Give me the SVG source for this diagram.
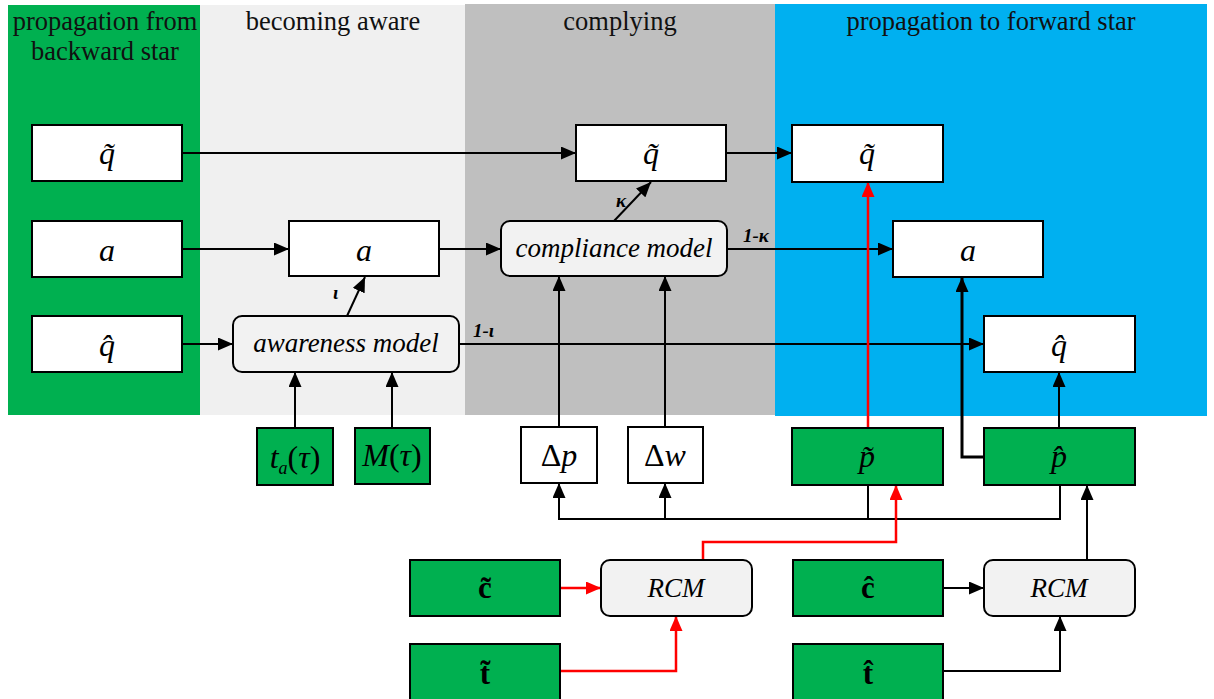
<svg xmlns="http://www.w3.org/2000/svg" width="1214" height="699" viewBox="0 0 1214 699">
<style>
.hdr{font-family:"Liberation Serif","Times New Roman",serif;font-size:26.5px;fill:#111;text-anchor:middle}
.box{fill:#fff;stroke:#000;stroke-width:2}
.gbox{fill:#00b050;stroke:#000;stroke-width:2}
.mbox{fill:#f2f2f2;stroke:#000;stroke-width:2}
.var{font-family:"Liberation Serif","Times New Roman",serif;font-size:32px;font-style:italic;fill:#000;text-anchor:middle}
.bvar{font-family:"Liberation Serif","Times New Roman",serif;font-size:31px;font-weight:bold;fill:#000;text-anchor:middle}
.mdl{font-family:"Liberation Serif","Times New Roman",serif;font-size:27px;font-style:italic;fill:#000;text-anchor:middle}
.lbl{font-family:"Liberation Serif","Times New Roman",serif;font-size:19px;font-style:italic;font-weight:bold;fill:#000}
.up{font-style:normal}
.c{fill:none;stroke:#000;stroke-width:2}
.r{fill:none;stroke:#ff0000;stroke-width:2.5}
</style>
<defs>
<marker id="ah" markerUnits="userSpaceOnUse" markerWidth="15" markerHeight="13" refX="15" refY="6.5" orient="auto"><path d="M0,0 L15,6.5 L0,13 z" fill="#000"/></marker>
<marker id="ahr" markerUnits="userSpaceOnUse" markerWidth="15" markerHeight="13" refX="15" refY="6.5" orient="auto"><path d="M0,0 L15,6.5 L0,13 z" fill="#ff0000"/></marker>
</defs>
<rect width="1214" height="699" fill="#fff"/>
<g id="bands">
<rect x="8" y="5" width="192" height="410" fill="#00b050"/>
<rect x="200" y="5" width="265" height="410" fill="#f0f0f0"/>
<rect x="465" y="4" width="310" height="411" fill="#bfbfbf"/>
<rect x="775" y="4" width="432" height="412" fill="#00b0f0"/>
<text class="hdr" x="105" y="30">propagation from</text>
<text class="hdr" x="105" y="60">backward star</text>
<text class="hdr" x="333" y="30">becoming aware</text>
<text class="hdr" x="620" y="30">complying</text>
<text class="hdr" x="991" y="30">propagation to forward star</text>
</g>
<g id="connectors">
<path class="c" d="M182,153 H576" marker-end="url(#ah)"/>
<path class="c" d="M726,153 H792" marker-end="url(#ah)"/>
<path class="c" d="M182,249 H289" marker-end="url(#ah)"/>
<path class="c" d="M439,249 H501" marker-end="url(#ah)"/>
<path class="c" d="M727,249 H893" marker-end="url(#ah)"/>
<path class="c" d="M182,344 H233" marker-end="url(#ah)"/>
<path class="c" d="M459,344 H984" marker-end="url(#ah)"/>
<path class="c" d="M347,316 L365,277" marker-end="url(#ah)"/>
<path class="c" d="M614,221 L651,182" marker-end="url(#ah)"/>
<path class="c" d="M295,428 V372" marker-end="url(#ah)"/>
<path class="c" d="M392,428 V372" marker-end="url(#ah)"/>
<path class="c" d="M559,427 V276" marker-end="url(#ah)"/>
<path class="c" d="M665,427 V276" marker-end="url(#ah)"/>
<path class="c" d="M1060,485 V519 H559 V483" marker-end="url(#ah)"/>
<path class="c" d="M868,485 V519"/>
<path class="c" d="M665,519 V483" marker-end="url(#ah)"/>
<path class="c" d="M984,457 H962 V277" style="stroke-width:3" marker-end="url(#ah)"/>
<path class="c" d="M1059,428 V372" marker-end="url(#ah)"/>
<path class="c" d="M1087,560 V485" marker-end="url(#ah)"/>
<path class="c" d="M943,588 H984" marker-end="url(#ah)"/>
<path class="c" d="M943,671 H1060 V616" marker-end="url(#ah)"/>
<path class="r" d="M868,428 V182" marker-end="url(#ahr)"/>
<path class="r" d="M703,560 V542 H896 V485" marker-end="url(#ahr)"/>
<path class="r" d="M560,588 H601" marker-end="url(#ahr)"/>
<path class="r" d="M560,671 H676 V616" marker-end="url(#ahr)"/>
<text class="lbl" x="333" y="299">ι</text>
<text class="lbl" x="473" y="337">1-ι</text>
<text class="lbl" x="616" y="207">κ</text>
<text class="lbl" x="743" y="242">1-κ</text>
</g>
<g id="n-q-tilde-in"><rect class="box" x="32" y="125" width="150" height="56"/><text class="var" x="107" y="164">q̃</text></g>
<g id="n-a-in"><rect class="box" x="32" y="221" width="150" height="56"/><text class="var" x="107" y="261">a</text></g>
<g id="n-q-hat-in"><rect class="box" x="32" y="316" width="150" height="56"/><text class="var" x="107" y="356">q̂</text></g>
<g id="n-a-aware"><rect class="box" x="289" y="221" width="150" height="55"/><text class="var" x="364" y="261">a</text></g>
<g id="n-awareness"><rect class="mbox" x="233" y="316" width="226" height="56" rx="9"/><text class="mdl" x="346" y="352">awareness model</text></g>
<g id="n-ta"><rect class="gbox" x="257" y="428" width="76" height="57"/><text class="var" x="295" y="468">t<tspan font-size="18" dy="6">a</tspan><tspan dy="-6" class="up">(</tspan>τ<tspan class="up">)</tspan></text></g>
<g id="n-M"><rect class="gbox" x="355" y="428" width="75" height="56"/><text class="var" x="392" y="466">M<tspan class="up">(</tspan>τ<tspan class="up">)</tspan></text></g>
<g id="n-q-tilde-comp"><rect class="box" x="576" y="125" width="150" height="56"/><text class="var" x="651" y="164">q̃</text></g>
<g id="n-compliance"><rect class="mbox" x="501" y="221" width="226" height="55" rx="9"/><text class="mdl" x="614" y="257">compliance model</text></g>
<g id="n-dp"><rect class="box" x="521" y="427" width="76" height="56"/><text class="var" x="559" y="466"><tspan class="up">Δ</tspan>p</text></g>
<g id="n-dw"><rect class="box" x="628" y="427" width="75" height="56"/><text class="var" x="665" y="466"><tspan class="up">Δ</tspan>w</text></g>
<g id="n-q-tilde-out"><rect class="box" x="792" y="125" width="151" height="57"/><text class="var" x="867" y="164">q̃</text></g>
<g id="n-a-out"><rect class="box" x="893" y="221" width="150" height="56"/><text class="var" x="968" y="261">a</text></g>
<g id="n-q-hat-out"><rect class="box" x="984" y="316" width="151" height="56"/><text class="var" x="1059" y="356">q̂</text></g>
<g id="n-p-tilde"><rect class="gbox" x="792" y="428" width="151" height="57"/><text class="var" x="867" y="467">p̃</text></g>
<g id="n-p-hat"><rect class="gbox" x="984" y="428" width="151" height="57"/><text class="var" x="1059" y="467">p̂</text></g>
<g id="n-c-tilde"><rect class="gbox" x="410" y="560" width="150" height="56"/><text class="bvar" x="485" y="598">c̃</text></g>
<g id="n-t-tilde"><rect class="gbox" x="410" y="644" width="150" height="57"/><text class="bvar" x="485" y="684">t̃</text></g>
<g id="n-rcm1"><rect class="mbox" x="601" y="560" width="151" height="56" rx="9"/><text class="mdl" x="676" y="597">RCM</text></g>
<g id="n-c-hat"><rect class="gbox" x="793" y="560" width="150" height="56"/><text class="bvar" x="868" y="598">ĉ</text></g>
<g id="n-t-hat"><rect class="gbox" x="793" y="644" width="150" height="57"/><text class="bvar" x="868" y="684">t̂</text></g>
<g id="n-rcm2"><rect class="mbox" x="984" y="560" width="151" height="56" rx="9"/><text class="mdl" x="1059" y="597">RCM</text></g>
</svg>
